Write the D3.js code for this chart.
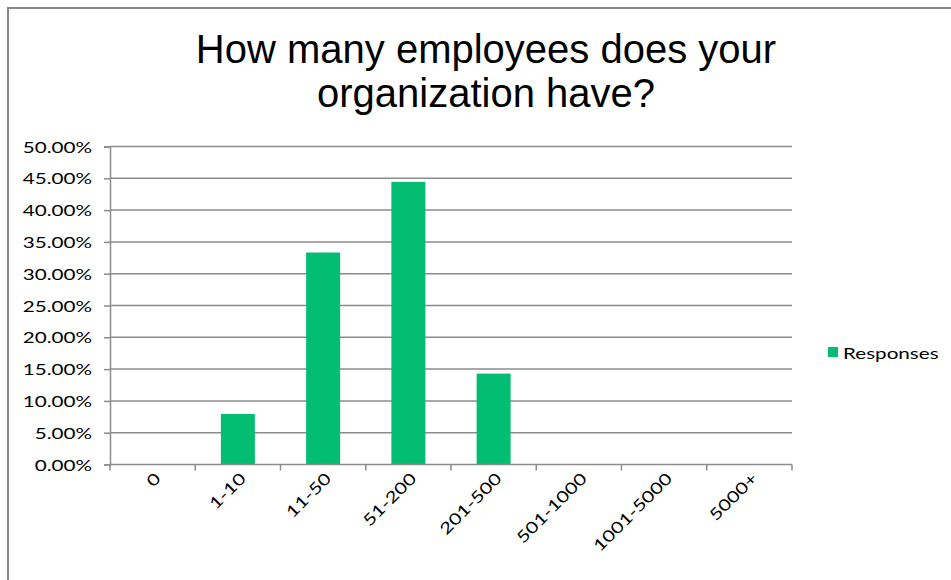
<!DOCTYPE html>
<html>
<head>
<meta charset="utf-8">
<script src="https://cdn.jsdelivr.net/npm/d3@7/dist/d3.min.js"></script>
<style>
  html, body { margin: 0; padding: 0; background: #fff; }
  svg { display: block; }
</style>
</head>
<body>
<svg id="chart" width="951" height="580"></svg>
<script>
// Survey question: company size distribution
const categories = ["0", "1-10", "11-50", "51-200", "201-500", "501-1000", "1001-5000", "5000+"];
const responses = [0, 0.0794, 0.3333, 0.4444, 0.1429, 0, 0, 0];
const yTicks = [0, 0.05, 0.10, 0.15, 0.20, 0.25, 0.30, 0.35, 0.40, 0.45, 0.50];
const titleLines = ["How many employees does your", "organization have?"];
const seriesName = "Responses";

const W = 951, H = 580;
const plot = { left: 110, right: 792, top: 146.5, bottom: 464.5 };
const green = "#02bd72";
const gridColor = "#8c8c8c";
const labelFont = "Lato, 'Open Sans', sans-serif";
const stretch = 1.29; // horizontal stretch of the axis/legend text

const svg = d3.select("#chart");

// outer frame (top and left edges)
svg.append("path")
  .attr("d", `M8,${H} V8 H${W}`)
  .attr("fill", "none")
  .attr("stroke", "#888")
  .attr("stroke-width", 2);

// title
const title = svg.append("text")
  .attr("text-anchor", "middle")
  .attr("font-family", "'Liberation Sans', Arial, sans-serif")
  .attr("font-size", 40)
  .attr("fill", "#000");
titleLines.forEach((t, i) => {
  title.append("tspan").attr("x", 486).attr("y", 63 + i * 44).text(t);
});

const xb = d3.scaleBand().domain(categories).range([plot.left, plot.right]);
const y = d3.scaleLinear().domain([0, 0.5]).range([plot.bottom, plot.top]);

// horizontal gridlines
svg.append("g")
  .selectAll("line")
  .data(yTicks.slice(1))
  .join("line")
  .attr("x1", plot.left).attr("x2", plot.right)
  .attr("y1", d => y(d)).attr("y2", d => y(d))
  .attr("stroke", gridColor).attr("stroke-width", 1.5);

// bars
svg.append("g")
  .selectAll("rect")
  .data(categories.map((c, i) => ({ c, v: responses[i] })).filter(d => d.v > 0))
  .join("rect")
  .attr("x", d => xb(d.c) + (xb.bandwidth() - 34) / 2)
  .attr("width", 34)
  .attr("y", d => y(d.v))
  .attr("height", d => y(0) - y(d.v))
  .attr("fill", green);

// y axis
const yAxis = svg.append("g")
  .attr("transform", `translate(${plot.left},0)`)
  .call(d3.axisLeft(y).tickValues(yTicks).tickSize(6).tickPadding(0).tickFormat(d => ""));
yAxis.select(".domain").attr("stroke", gridColor).attr("stroke-width", 1.5);
yAxis.selectAll(".tick line").attr("stroke", gridColor).attr("stroke-width", 1.5);

svg.append("g")
  .selectAll("text")
  .data(yTicks)
  .join("text")
  .attr("transform", d => `translate(92,${y(d) + 6}) scale(${stretch},1)`)
  .attr("text-anchor", "end")
  .attr("font-family", labelFont)
  .attr("font-size", 16)
  .attr("fill", "#000")
  .text(d => (d * 100).toFixed(2) + "%");

// x axis with ticks at category boundaries
const xAxisG = svg.append("g").attr("transform", `translate(0,${plot.bottom})`);
xAxisG.append("line")
  .attr("x1", plot.left).attr("x2", plot.right)
  .attr("stroke", gridColor).attr("stroke-width", 1.5);
xAxisG.selectAll("line.tk")
  .data(categories.concat(["end"]))
  .join("line")
  .attr("class", "tk")
  .attr("x1", (d, i) => plot.left + i * xb.step())
  .attr("x2", (d, i) => plot.left + i * xb.step())
  .attr("y1", 0).attr("y2", 6)
  .attr("stroke", gridColor).attr("stroke-width", 1.5);

svg.append("g")
  .selectAll("text")
  .data(categories)
  .join("text")
  .attr("transform", d => `translate(${xb(d) + xb.bandwidth() / 2 + 9},${plot.bottom + 15}) rotate(-45) scale(${stretch},1)`)
  .attr("text-anchor", "end")
  .attr("font-family", labelFont)
  .attr("font-size", 16)
  .attr("fill", "#000")
  .text(d => d);

// legend
const legend = svg.append("g").attr("transform", "translate(828,347)");
legend.append("rect").attr("width", 10).attr("height", 10).attr("fill", green);
legend.append("text")
  .attr("transform", `translate(15,11.5) scale(${stretch},1)`)
  .attr("font-family", labelFont)
  .attr("font-size", 16)
  .attr("fill", "#000")
  .text(seriesName);
</script>
</body>
</html>
